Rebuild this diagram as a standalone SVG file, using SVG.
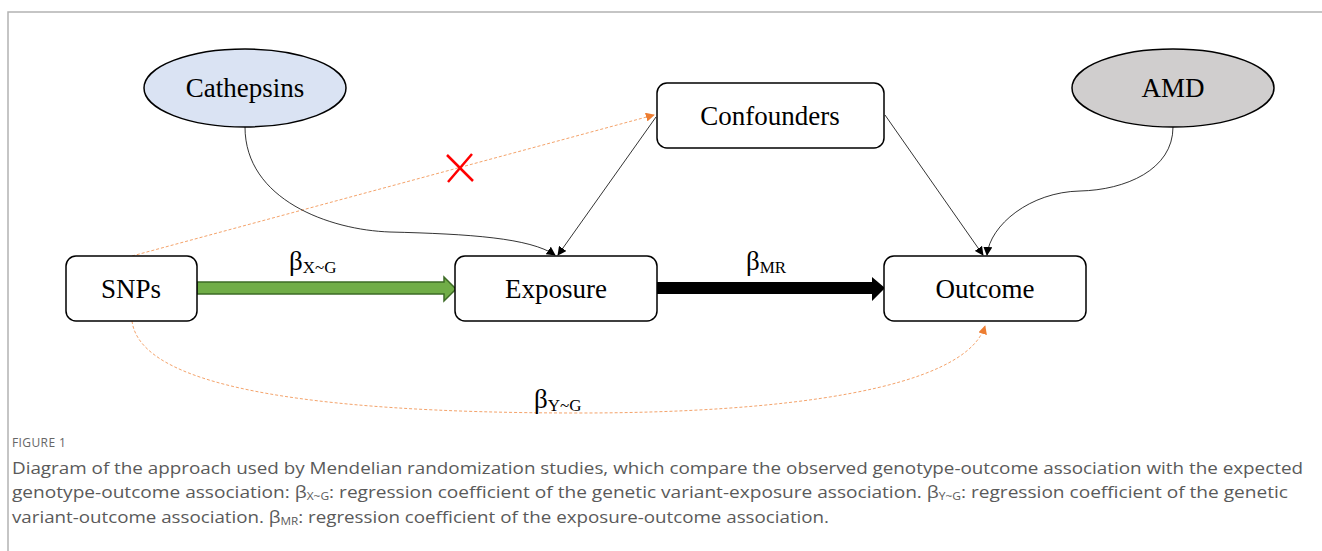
<svg xmlns="http://www.w3.org/2000/svg" width="1322" height="551" viewBox="0 0 1322 551">
<style>
.node{fill:#fff;stroke:#000;stroke-width:1.5}
.lbl{font-family:"Liberation Serif",serif;font-size:27px;fill:#000;text-anchor:middle}
.beta{font-family:"Liberation Serif",serif;font-size:27px;fill:#000}
.sub{font-size:17px}
.thin{fill:none;stroke:#000;stroke-width:0.8}
.dash{fill:none;stroke:#f4a36b;stroke-width:1;stroke-dasharray:3,2}
.cap{font-family:"Open Sans","Noto Sans",sans-serif;font-size:16px;fill:#5a5a5a}
.csub{font-size:10px}
</style>
<defs>
<marker id="ab" viewBox="0 0 10 10" refX="9" refY="5" markerWidth="9" markerHeight="9" markerUnits="userSpaceOnUse" orient="auto"><path d="M0,0 L10,5 L0,10 z" fill="#000"/></marker>
<marker id="ao" viewBox="0 0 10 10" refX="9" refY="5" markerWidth="9" markerHeight="9" markerUnits="userSpaceOnUse" orient="auto"><path d="M0,0 L10,5 L0,10 z" fill="#ed7d31"/></marker>
</defs>
<rect width="1322" height="551" fill="#fff"/>
<path d="M8,551 V12 H1322" fill="none" stroke="#b3b3b3" stroke-width="1.5"/>

<g id="connectors">
<path class="dash" d="M132,256 L654,115" marker-end="url(#ao)"/>
<path class="dash" d="M132,321 C140,385 300,413 580,413 C780,413 965,390 985,326" marker-end="url(#ao)"/>
<path class="thin" d="M245,127 C245,200 330,230 390,232 C470,234 530,238 555,255" marker-end="url(#ab)"/>
<path class="thin" d="M656,117 L558,255" marker-end="url(#ab)"/>
<path class="thin" d="M885,115 L983,255" marker-end="url(#ab)"/>
<path class="thin" d="M1173,127 C1173,170 1125,190 1080,191 C1030,192 990,225 987,255" marker-end="url(#ab)"/>
<path d="M197,282 H444 V277 L456,289 L444,301 V294 H197 z" fill="#70ad47" stroke="#3d6b26" stroke-width="1.5"/>
<path d="M657,282 H872 V277 L885,288 L872,301 V294 H657 z" fill="#000"/>
<path d="M447,155 L473,181 M448,182 L472,154" stroke="#ff0000" stroke-width="2.5" fill="none"/>
<text class="beta" x="289" y="270">β<tspan class="sub" dy="3">X~G</tspan></text>
<text class="beta" x="746" y="270">β<tspan class="sub" dy="3">MR</tspan></text>
<text class="beta" x="534" y="408">β<tspan class="sub" dy="3">Y~G</tspan></text>
</g>

<g id="cathepsins">
<ellipse cx="245" cy="88" rx="101" ry="39" fill="#dae3f3" stroke="#000" stroke-width="1.5"/>
<text class="lbl" x="245" y="97">Cathepsins</text>
</g>
<g id="amd">
<ellipse cx="1173" cy="88" rx="101" ry="39" fill="#d0cece" stroke="#000" stroke-width="1.5"/>
<text class="lbl" x="1173" y="97">AMD</text>
</g>
<g id="confounders">
<rect class="node" x="657" y="83" width="227" height="65" rx="10"/>
<text class="lbl" x="770" y="125">Confounders</text>
</g>
<g id="snps">
<rect class="node" x="66" y="256" width="131" height="65" rx="10"/>
<text class="lbl" x="131" y="298">SNPs</text>
</g>
<g id="exposure">
<rect class="node" x="455" y="256" width="202" height="65" rx="10"/>
<text class="lbl" x="556" y="298">Exposure</text>
</g>
<g id="outcome">
<rect class="node" x="884" y="256" width="202" height="65" rx="10"/>
<text class="lbl" x="985" y="298">Outcome</text>
</g>

<g id="caption">
<text x="12" y="447" font-family="'Open Sans','Noto Sans',sans-serif" font-size="12" fill="#666" letter-spacing="0.4">FIGURE 1</text>
<text class="cap" x="12" y="474" textLength="1291" lengthAdjust="spacingAndGlyphs">Diagram of the approach used by Mendelian randomization studies, which compare the observed genotype-outcome association with the expected</text>
<text class="cap" x="12" y="498" textLength="1276" lengthAdjust="spacingAndGlyphs">genotype-outcome association: β<tspan class="csub" dy="2">X~G</tspan><tspan dy="-2">: regression coefficient of the genetic variant-exposure association. β</tspan><tspan class="csub" dy="2">Y~G</tspan><tspan dy="-2">: regression coefficient of the genetic</tspan></text>
<text class="cap" x="12" y="523" textLength="817" lengthAdjust="spacingAndGlyphs">variant-outcome association. β<tspan class="csub" dy="2">MR</tspan><tspan dy="-2">: regression coefficient of the exposure-outcome association.</tspan></text>
</g>
</svg>
